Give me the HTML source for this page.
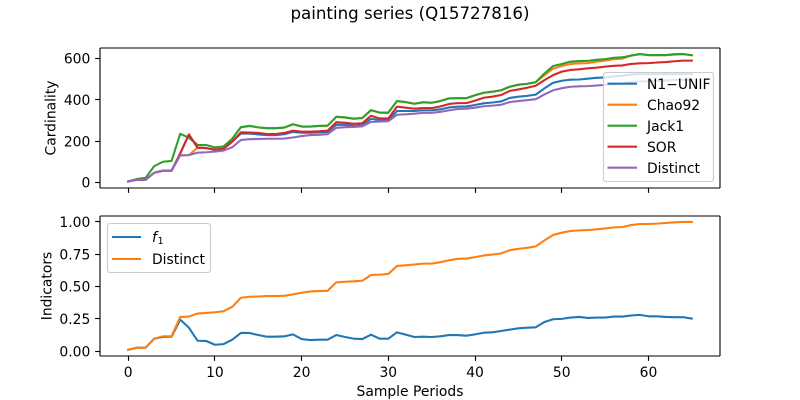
<!DOCTYPE html>
<html lang="en">
<head>
<meta charset="utf-8">
<title>painting series (Q15727816)</title>
<style>
html,body{margin:0;padding:0;background:#fff;}
svg{display:block;font-family:"DejaVu Sans","Liberation Sans",sans-serif;}
text{fill:#000;}
</style>
</head>
<body>
<svg id="chart" xmlns="http://www.w3.org/2000/svg" width="800" height="400" viewBox="0 0 800 400">
<rect x="0" y="0" width="800" height="400" fill="#fff"/>
<text x="410" y="19" font-size="16.67" text-anchor="middle">painting series (Q15727816)</text>
<text transform="translate(55.5,118) rotate(-90)" font-size="13.89" text-anchor="middle">Cardinality</text>
<text transform="translate(51.5,286) rotate(-90)" font-size="13.89" text-anchor="middle">Indicators</text>
<text x="410" y="396" font-size="13.89" text-anchor="middle">Sample Periods</text>
<g id="plots"></g>
<g id="legends">
<g>
<rect x="603.5" y="72.5" width="110" height="109" rx="2.8" fill="#fff" fill-opacity="0.8" stroke="#ccc" stroke-width="1.11"/>
<line x1="607.5" x2="637" y1="83.7" y2="83.7" stroke="#1f77b4" stroke-width="2.08"/>
<text x="647" y="89" font-size="13.89">N1−UNIF</text>
<line x1="607.5" x2="637" y1="104.7" y2="104.7" stroke="#ff7f0e" stroke-width="2.08"/>
<text x="647" y="110" font-size="13.89">Chao92</text>
<line x1="607.5" x2="637" y1="125.7" y2="125.7" stroke="#2ca02c" stroke-width="2.08"/>
<text x="647" y="131" font-size="13.89">Jack1</text>
<line x1="607.5" x2="637" y1="146.7" y2="146.7" stroke="#d62728" stroke-width="2.08"/>
<text x="647" y="152" font-size="13.89">SOR</text>
<line x1="607.5" x2="637" y1="167.7" y2="167.7" stroke="#9467bd" stroke-width="2.08"/>
<text x="647" y="173" font-size="13.89">Distinct</text>
</g>
<g>
<rect x="107.5" y="223.5" width="103" height="49" rx="2.8" fill="#fff" fill-opacity="0.8" stroke="#ccc" stroke-width="1.11"/>
<line x1="112" x2="141" y1="237" y2="237" stroke="#1f77b4" stroke-width="2.08"/>
<text x="152" y="242" font-size="13.89"><tspan font-style="italic">f</tspan><tspan font-size="9.7" dy="2.1" dx="0.6">1</tspan></text>
<line x1="112" x2="141" y1="259" y2="259" stroke="#ff7f0e" stroke-width="2.08"/>
<text x="152" y="264" font-size="13.89">Distinct</text>
</g>
</g>
</svg>
<script>
// Shared x axis
const xTicks = [0, 10, 20, 30, 40, 50, 60];
const periods = Array.from({length: 66}, (_, i) => i);

// Top panel: cardinality
const cardinalityTicks = [0, 200, 400, 600];
const n1Unif = [6,14,14,48,58,58,141,233,169,167,159,164,198,237,237,233,230,230,234,245,241,241,243,245,280,279,274,277,308,302,302,346,346,346,349,349,354,363,367,368,375,383,387,392,409,415,419,425,455,482,492,497,498,502,506,508,513,516,522,524,524,524,524,524,524,524];
const chao92 = [6,14,14,48,58,58,132,133,169,167,159,164,212,268,274,267,263,263,266,282,271,271,274,275,318,315,309,312,350,338,338,394,389,381,388,386,394,407,408,408,422,434,439,446,463,473,477,485,519,550,563,573,576,577,584,589,596,599,613,620,615,615,615,618,620,615];
const jack1 = [6,18,23,80,101,105,236,217,182,182,170,175,212,268,274,267,263,263,266,282,271,271,274,275,318,315,309,312,350,338,338,394,389,381,388,386,394,407,408,408,422,434,439,446,463,473,477,485,527,563,573,584,587,588,593,596,603,605,614,621,616,616,616,620,621,615];
const sor = [6,14,14,48,58,58,141,233,169,167,159,164,198,243,242,240,235,235,240,251,246,246,248,251,292,289,284,287,323,310,310,367,362,357,360,360,368,380,384,384,396,410,415,423,443,450,458,468,495,519,536,544,547,552,555,560,564,566,573,576,577,580,582,586,589,589];
const distinctCount = [6,14,14,48,58,58,132,133,145,147,150,155,171,206,210,211,212,212,213,218,225,230,231,234,265,268,269,272,293,295,297,328,330,333,337,337,342,349,356,357,362,369,372,376,389,394,398,403,426,446,456,463,465,466,469,472,476,478,485,489,489,491,493,496,497,497];

// Bottom panel: indicators
const indicatorTicks = [0, 0.25, 0.5, 0.75, 1];
const indicatorTickLabels = ['0.00', '0.25', '0.50', '0.75', '1.00'];
const f1Values = [0.012,0.028,0.028,0.098,0.111,0.113,0.245,0.183,0.082,0.08,0.051,0.056,0.09,0.142,0.142,0.126,0.113,0.113,0.116,0.131,0.095,0.087,0.09,0.09,0.126,0.111,0.098,0.095,0.129,0.098,0.098,0.147,0.129,0.111,0.113,0.111,0.116,0.126,0.126,0.121,0.131,0.144,0.147,0.157,0.168,0.178,0.183,0.186,0.227,0.248,0.251,0.261,0.266,0.258,0.261,0.261,0.269,0.269,0.277,0.282,0.271,0.271,0.266,0.264,0.264,0.253];
const distinctRatio = [0.012,0.028,0.028,0.098,0.116,0.116,0.266,0.269,0.292,0.297,0.302,0.31,0.344,0.414,0.422,0.424,0.427,0.427,0.429,0.44,0.453,0.463,0.466,0.468,0.533,0.538,0.541,0.546,0.59,0.593,0.598,0.66,0.665,0.671,0.678,0.678,0.689,0.704,0.715,0.717,0.728,0.741,0.748,0.756,0.782,0.792,0.8,0.811,0.857,0.899,0.917,0.93,0.935,0.937,0.943,0.95,0.958,0.961,0.976,0.984,0.984,0.987,0.992,0.997,1,1];

const SVGNS = 'http://www.w3.org/2000/svg';
const plots = document.getElementById('plots');
const AX_LEFT = 100, AX_RIGHT = 720;

const xScale = v => AX_LEFT + (v + 3.25) * (AX_RIGHT - AX_LEFT) / 71.5;
const yTop = v => 188 - (v + 25.6) * 140 / 675.6;
const yBottom = v => 356 - (v + 0.036) * 140 / 1.082;
const snap = v => Math.round(v - 0.5) + 0.5;

function drawLine(parent, x1, y1, x2, y2, name) {
  const el = document.createElementNS(SVGNS, 'line');
  el.setAttribute('x1', x1);
  el.setAttribute('y1', y1);
  el.setAttribute('x2', x2);
  el.setAttribute('y2', y2);
  el.setAttribute('stroke', '#000');
  el.setAttribute('stroke-width', '1.11');
  
  
  parent.appendChild(el);
}

function drawText(parent, x, y, anchor, content, name) {
  const el = document.createElementNS(SVGNS, 'text');
  el.setAttribute('x', x);
  el.setAttribute('y', y);
  el.setAttribute('font-size', '13.89');
  el.setAttribute('text-anchor', anchor);
  el.textContent = content;
  
  
  parent.appendChild(el);
}

function drawSeries(parent, values, yScale, color, name) {
  const el = document.createElementNS(SVGNS, 'polyline');
  el.setAttribute('points', values.map((v, i) => xScale(periods[i]).toFixed(2) + ',' + yScale(v).toFixed(2)).join(' '));
  el.setAttribute('fill', 'none');
  el.setAttribute('stroke', color);
  el.setAttribute('stroke-width', '2.08');
  el.setAttribute('stroke-linejoin', 'round');
  el.setAttribute('stroke-linecap', 'square');
  
  
  parent.appendChild(el);
}

function drawFrame(parent, top, bottom, prefix) {
  const sides = [
    [AX_LEFT, top, AX_LEFT, bottom, 'left'],
    [AX_RIGHT, top, AX_RIGHT, bottom, 'right'],
    [AX_LEFT, top, AX_RIGHT, top, 'top'],
    [AX_LEFT, bottom, AX_RIGHT, bottom, 'bottom']
  ];
  sides.forEach(s => drawLine(parent, s[0], s[1], s[2], s[3], prefix + '-spine-' + s[4]));
}

function drawPanel(cfg) {
  const g = document.createElementNS(SVGNS, 'g');
  
  
  plots.appendChild(g);
  cfg.series.forEach(s => drawSeries(g, s.values, cfg.yScale, s.color, cfg.prefix + '-line-' + s.name));
  drawFrame(g, cfg.top, cfg.bottom, cfg.prefix);
  xTicks.forEach(t => {
    const px = snap(xScale(t));
    drawLine(g, px, cfg.bottom, px, cfg.bottom + 4.86, cfg.prefix + '-x-tick-' + t);
    if (cfg.xLabels) {
      drawText(g, xScale(t), cfg.bottom + 21, 'middle', String(t), 'x-tick-label-' + t);
    }
  });
  cfg.yTicks.forEach((t, i) => {
    const py = snap(cfg.yScale(t));
    drawLine(g, AX_LEFT - 4.86, py, AX_LEFT, py, cfg.prefix + '-y-tick-' + i);
    drawText(g, 90.3, cfg.yScale(t) + 5, 'end', cfg.yLabels[i], cfg.prefix + '-y-tick-label-' + i);
  });
}

drawPanel({
  prefix: 'cardinality', top: 48, bottom: 188, yScale: yTop, xLabels: false,
  yTicks: cardinalityTicks, yLabels: cardinalityTicks.map(String),
  series: [
    {name: 'n1-unif', values: n1Unif, color: '#1f77b4'},
    {name: 'chao92', values: chao92, color: '#ff7f0e'},
    {name: 'jack1', values: jack1, color: '#2ca02c'},
    {name: 'sor', values: sor, color: '#d62728'},
    {name: 'distinct', values: distinctCount, color: '#9467bd'}
  ]
});

drawPanel({
  prefix: 'indicators', top: 216, bottom: 356, yScale: yBottom, xLabels: true,
  yTicks: indicatorTicks, yLabels: indicatorTickLabels,
  series: [
    {name: 'f1', values: f1Values, color: '#1f77b4'},
    {name: 'distinct', values: distinctRatio, color: '#ff7f0e'}
  ]
});
</script>
</body>
</html>
